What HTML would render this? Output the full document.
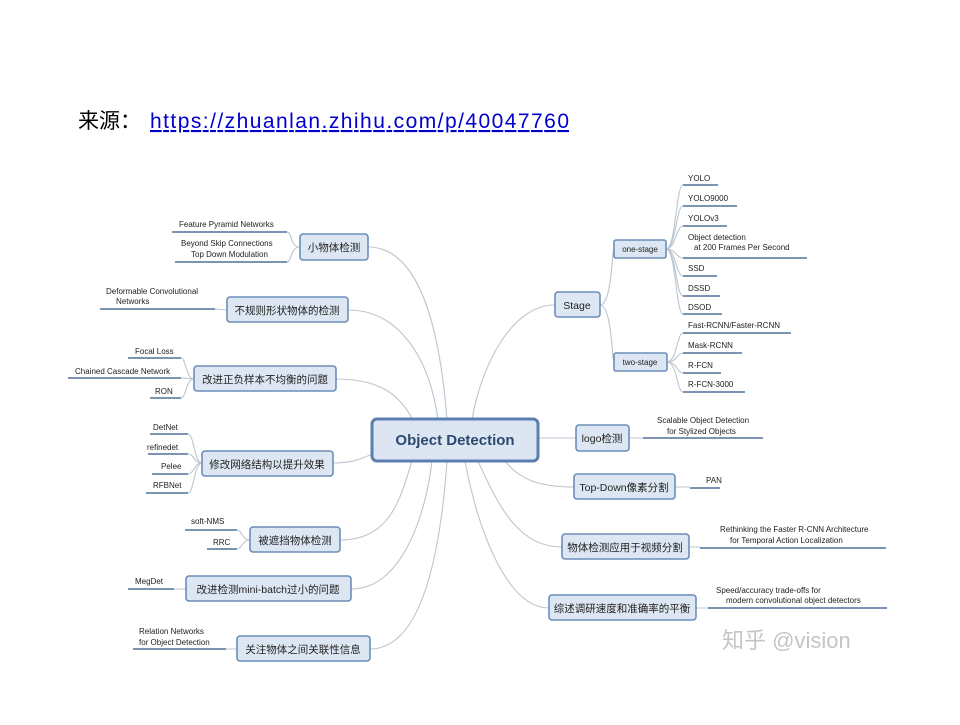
<!DOCTYPE html>
<html><head><meta charset="utf-8"><style>
body{margin:0;background:#fff;width:960px;height:720px;overflow:hidden}
svg text{font-family:"Liberation Sans","Noto Sans CJK SC",sans-serif}
.n{fill:#dde7f3;stroke:#6b8db8;stroke-width:1.6}
.c{fill:none;stroke:#bcc6d0;stroke-width:1.1}
.u{stroke:#4f7199;stroke-width:1.6}
.l{font-size:8px;fill:#222}
.t{font-size:10.5px;fill:#222}
</style></head><body>
<svg width="960" height="720" xmlns="http://www.w3.org/2000/svg">
<text x="78" y="128" font-size="21" fill="#000">来源：</text>
<text x="150" y="128" font-size="21" fill="#0000cc" text-decoration="underline" textLength="419" lengthAdjust="spacing">https://zhuanlan.zhihu.com/p/40047760</text>

<path class="c" d="M368 247 C420 247 440 330 447 420"/>
<path class="c" d="M348 310 C400 310 430 360 438 420"/>
<path class="c" d="M336 379 C380 379 400 395 413 420"/>
<path class="c" d="M333 463 C360 463 365 455 372 455"/>
<path class="c" d="M340 540 C390 540 400 500 412 461"/>
<path class="c" d="M351 589 C400 589 425 520 432 461"/>
<path class="c" d="M370 649 C420 649 440 560 447 461"/>
<path class="c" d="M555 305 C510 305 480 370 472 420"/>
<path class="c" d="M538 438 L576 438"/>
<path class="c" d="M505 461 C520 480 540 487 574 487"/>
<path class="c" d="M478 461 C500 510 520 547 562 547"/>
<path class="c" d="M465 461 C480 540 510 608 549 608"/>
<path class="c" d="M600 305 C612 305 612 249 614 249"/>
<path class="c" d="M600 305 C612 305 612 362 614 362"/>

<path class="c" d="M666 249 C676 249 676 185 683 185 M666 249 C676 249 676 206 683 206 M666 249 C676 249 676 226 683 226 M666 249 C676 249 676 258 683 258 M666 249 C676 249 676 276 683 276 M666 249 C676 249 676 296 683 296 M666 249 C676 249 676 314 683 314"/>
<path class="c" d="M667 362 C677 362 677 333 683 333 M667 362 C677 362 677 353 683 353 M667 362 C677 362 677 373 683 373 M667 362 C677 362 677 392 683 392"/>
<g class="u">
<line x1="683" y1="185" x2="718" y2="185"/><line x1="683" y1="206" x2="737" y2="206"/>
<line x1="683" y1="226" x2="727" y2="226"/><line x1="683" y1="258" x2="807" y2="258"/>
<line x1="683" y1="276" x2="717" y2="276"/><line x1="683" y1="296" x2="720" y2="296"/>
<line x1="683" y1="314" x2="722" y2="314"/><line x1="683" y1="333" x2="791" y2="333"/>
<line x1="683" y1="353" x2="742" y2="353"/><line x1="683" y1="373" x2="721" y2="373"/>
<line x1="683" y1="392" x2="745" y2="392"/>
<line x1="643" y1="438" x2="763" y2="438"/><line x1="690" y1="488" x2="720" y2="488"/>
<line x1="700" y1="548" x2="886" y2="548"/><line x1="708" y1="608" x2="887" y2="608"/>
</g>
<path class="c" d="M629 438 L643 438 M675 487 L690 487 M689 547 L700 547 M696 608 L708 608"/>
<g class="l">
<text x="688" y="181">YOLO</text><text x="688" y="201">YOLO9000</text><text x="688" y="221">YOLOv3</text>
<text x="688" y="240">Object detection</text><text x="694" y="250">at 200 Frames Per Second</text>
<text x="688" y="271">SSD</text><text x="688" y="291">DSSD</text><text x="688" y="310">DSOD</text>
<text x="688" y="328">Fast-RCNN/Faster-RCNN</text><text x="688" y="348">Mask-RCNN</text>
<text x="688" y="368">R-FCN</text><text x="688" y="387">R-FCN-3000</text>
<text x="657" y="423">Scalable Object Detection</text><text x="667" y="434">for Stylized Objects</text>
<text x="706" y="483">PAN</text>
<text x="720" y="532">Rethinking the Faster R-CNN Architecture</text><text x="730" y="543">for Temporal Action Localization</text>
<text x="716" y="593">Speed/accuracy trade-offs for</text><text x="726" y="603">modern convolutional object detectors</text>
</g>

<path class="c" d="M300 247 C290 247 292 232 287 232 M300 247 C290 247 292 262 287 262 M194 379 C186 379 186 358 181 358 M194 379 C186 379 186 398 181 398 M194 379 L181 378 M202 463 C194 463 194 434 188 434 M202 463 C194 463 194 454 188 454 M202 463 C194 463 194 474 188 474 M202 463 C194 463 194 493 188 493 M250 540 C242 540 242 530 237 530 M250 540 C242 540 242 549 237 549 M227 310 L215 309 M186 589 L174 589 M237 649 L226 649"/>
<g class="u">
<line x1="172" y1="232" x2="287" y2="232"/><line x1="175" y1="262" x2="287" y2="262"/>
<line x1="100" y1="309" x2="215" y2="309"/>
<line x1="128" y1="358" x2="181" y2="358"/><line x1="68" y1="378" x2="181" y2="378"/><line x1="150" y1="398" x2="181" y2="398"/>
<line x1="150" y1="434" x2="188" y2="434"/><line x1="148" y1="454" x2="188" y2="454"/><line x1="152" y1="474" x2="188" y2="474"/><line x1="146" y1="493" x2="188" y2="493"/>
<line x1="185" y1="530" x2="237" y2="530"/><line x1="207" y1="549" x2="237" y2="549"/>
<line x1="128" y1="589" x2="174" y2="589"/><line x1="133" y1="649" x2="226" y2="649"/>
</g>
<g class="l">
<text x="179" y="227">Feature Pyramid Networks</text>
<text x="181" y="246">Beyond Skip Connections</text><text x="191" y="257">Top Down Modulation</text>
<text x="106" y="294">Deformable Convolutional</text><text x="116" y="304">Networks</text>
<text x="135" y="354">Focal Loss</text><text x="75" y="374">Chained Cascade Network</text><text x="155" y="394">RON</text>
<text x="153" y="430">DetNet</text><text x="147" y="450">refinedet</text><text x="161" y="469">Pelee</text><text x="153" y="488">RFBNet</text>
<text x="191" y="524">soft-NMS</text><text x="213" y="545">RRC</text>
<text x="135" y="584">MegDet</text>
<text x="139" y="634">Relation Networks</text><text x="139" y="645">for Object Detection</text>
</g>

<rect class="n" x="300" y="234" width="68" height="26" rx="3"/><text class="t" x="334" y="251" text-anchor="middle">小物体检测</text>
<rect class="n" x="227" y="297" width="121" height="25" rx="3"/><text class="t" x="287" y="314" text-anchor="middle">不规则形状物体的检测</text>
<rect class="n" x="194" y="366" width="142" height="25" rx="3"/><text class="t" x="265" y="383" text-anchor="middle">改进正负样本不均衡的问题</text>
<rect class="n" x="202" y="451" width="131" height="25" rx="3"/><text class="t" x="267" y="468" text-anchor="middle">修改网络结构以提升效果</text>
<rect class="n" x="250" y="527" width="90" height="25" rx="3"/><text class="t" x="295" y="544" text-anchor="middle">被遮挡物体检测</text>
<rect class="n" x="186" y="576" width="165" height="25" rx="3"/><text class="t" x="268" y="593" text-anchor="middle">改进检测mini-batch过小的问题</text>
<rect class="n" x="237" y="636" width="133" height="25" rx="3"/><text class="t" x="303" y="653" text-anchor="middle">关注物体之间关联性信息</text>
<rect class="n" x="555" y="292" width="45" height="25" rx="3"/><text class="t" x="577" y="309" text-anchor="middle">Stage</text>
<rect class="n" x="614" y="240" width="52" height="18" rx="2"/><text class="l" x="640" y="252" text-anchor="middle">one-stage</text>
<rect class="n" x="614" y="353" width="53" height="18" rx="2"/><text class="l" x="640" y="365" text-anchor="middle">two-stage</text>
<rect class="n" x="576" y="425" width="53" height="26" rx="3"/><text class="t" x="602" y="442" text-anchor="middle">logo检测</text>
<rect class="n" x="574" y="474" width="101" height="25" rx="3"/><text class="t" x="624" y="491" text-anchor="middle">Top-Down像素分割</text>
<rect class="n" x="562" y="534" width="127" height="25" rx="3"/><text class="t" x="625" y="551" text-anchor="middle">物体检测应用于视频分割</text>
<rect class="n" x="549" y="595" width="147" height="25" rx="3"/><text class="t" x="622" y="612" text-anchor="middle">综述调研速度和准确率的平衡</text>
<rect x="372" y="419" width="166" height="42" rx="5" fill="#dce6f2" stroke="#5b7fb0" stroke-width="3"/>
<text x="455" y="445" font-size="15" font-weight="bold" fill="#2c4a70" text-anchor="middle">Object Detection</text>

<text x="722" y="648" font-size="22" fill="#c4c4c4">知乎 @vision</text>
</svg>
</body></html>
